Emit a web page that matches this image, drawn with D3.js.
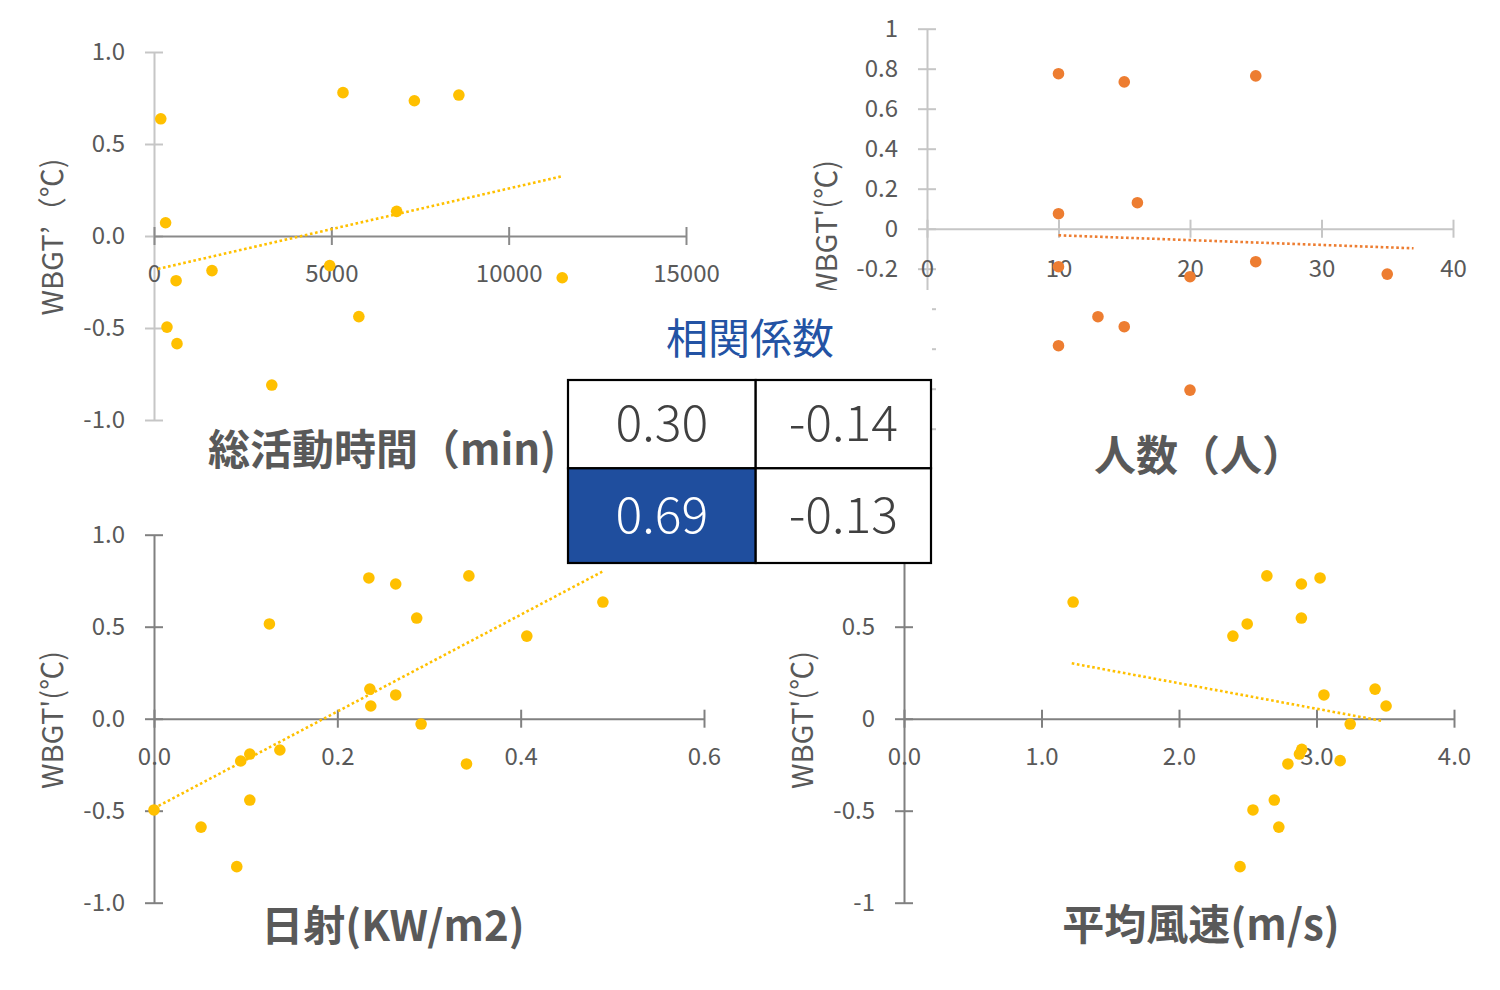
<!DOCTYPE html>
<html><head><meta charset="utf-8">
<script src="https://cdn.jsdelivr.net/npm/d3@7"></script>
<style>
body{margin:0;background:#fff}
svg{display:block}
text{font-family:"Noto Sans CJK JP","Noto Sans",sans-serif}
</style>
</head><body>
<svg id="c" width="1500" height="990"></svg>
<script>
// ---- Data ----
// 総活動時間 (min) vs WBGT'
const tlX = [191, 327, 623, 366, 648, 1635, 3321, 4954, 5329, 5776, 6842, 7341, 8596, 11510];
const tlY = [0.637, 0.072, -0.243, -0.495, -0.585, -0.188, -0.81, -0.161, 0.779, -0.438, 0.134, 0.735, 0.766, -0.227];
const tlTrendX = [110, 11470];
const tlTrendY = [-0.179, 0.323];
const tlXTicks = [0, 5000, 10000, 15000];
const tlXLabels = ["0", "5000", "10000", "15000"];
const tlYTicks = [-1, -0.5, 0, 0.5, 1];
const tlYLabels = ["-1.0", "-0.5", "0.0", "0.5", "1.0"];

// 人数 (人) vs WBGT'
const trX = [10, 15, 25, 16, 10, 10, 25, 20, 35, 13, 15, 10, 20];
const trY = [0.775, 0.734, 0.764, 0.130, 0.075, -0.19, -0.165, -0.24, -0.227, -0.44, -0.49, -0.585, -0.807];
const trTrendX = [10, 37];
const trTrendY = [-0.033, -0.098];
const trXTicks = [0, 10, 20, 30, 40];
const trXLabels = ["0", "10", "20", "30", "40"];
const trYTicks = [-1, -0.8, -0.6, -0.4, -0.2, 0, 0.2, 0.4, 0.6, 0.8, 1];
const trYLabels = ["-1", "-0.8", "-0.6", "-0.4", "-0.2", "0", "0.2", "0.4", "0.6", "0.8", "1"];

// 日射 (KW/m2) vs WBGT'
const blX = [0.2344, 0.2637, 0.3435, 0.1259, 0.2866, 0.4897, 0.4067, 0.2355, 0.2637, 0.2365, 0.2914, 0.1373, 0.1045, 0.0946, 0.3409, 0.0, 0.1045, 0.0513, 0.0903];
const blY = [0.765, 0.732, 0.776, 0.515, 0.547, 0.634, 0.449, 0.161, 0.129, 0.069, -0.029, -0.170, -0.192, -0.230, -0.246, -0.496, -0.442, -0.589, -0.804];
const blTrendX = [0, 0.489];
const blTrendY = [-0.487, 0.799];
const blXTicks = [0, 0.2, 0.4, 0.6];
const blXLabels = ["0.0", "0.2", "0.4", "0.6"];
const blYTicks = [-1, -0.5, 0, 0.5, 1];
const blYLabels = ["-1.0", "-0.5", "0.0", "0.5", "1.0"];

// 平均風速 (m/s) vs WBGT'
const brX = [1.230, 2.639, 2.890, 3.026, 2.496, 2.392, 2.890, 3.054, 3.426, 3.506, 3.245, 2.893, 2.876, 2.792, 3.172, 2.693, 2.538, 2.726, 2.444];
const brY = [0.634, 0.776, 0.732, 0.765, 0.515, 0.449, 0.547, 0.129, 0.161, 0.069, -0.029, -0.166, -0.192, -0.246, -0.228, -0.442, -0.496, -0.589, -0.804];
const brTrendX = [1.22, 3.47];
const brTrendY = [0.301, -0.011];
const brXTicks = [0, 1, 2, 3, 4];
const brXLabels = ["0.0", "1.0", "2.0", "3.0", "4.0"];
const brYTicks = [-1, -0.5, 0, 0.5, 1];
const brYLabels = ["-1", "-0.5", "0", "0.5", "1"];

// 相関係数 table
const corrValues = [["0.30", "-0.14"], ["0.69", "-0.13"]];
const corrTitle = "相関係数";

// ---- Drawing ----
const svg = d3.select("#c");
const TXT = "#595959";

function panel(o) {
  const g = svg.append("g");
  const x = d3.scaleLinear().domain(o.xd).range(o.xr);
  const y = d3.scaleLinear().domain([-1, 1]).range(o.yr);

  // y axis
  const ya = g.append("g").attr("transform", `translate(${x(0)},0)`)
    .call(d3.axisLeft(y).tickValues(o.yt).tickFormat((d, i) => o.yl[i])
      .tickSizeInner(9).tickSizeOuter(0).tickPadding(20));
  ya.selectAll(".tick line").attr("x1", 9).attr("stroke", o.yCol).attr("stroke-width", 2);
  ya.select(".domain").attr("stroke", o.yCol).attr("stroke-width", 2);
  ya.selectAll("text").attr("fill", TXT).style("font-size", "24px");
  // labels that sit under the overlaid table/title box are not visible in the chart
  if (o.hidden) ya.selectAll(".tick").filter(d => o.hidden(y(d))).select("text").remove();

  // x axis at y = 0
  const xa = g.append("g").attr("transform", `translate(0,${y(0)})`)
    .call(d3.axisBottom(x).tickValues(o.xt).tickFormat((d, i) => o.xl[i])
      .tickSizeInner(9).tickSizeOuter(0).tickPadding(o.xPad));
  xa.selectAll(".tick line").attr("y1", -9).attr("stroke", o.xCol).attr("stroke-width", 2);
  xa.select(".domain").attr("stroke", o.xCol).attr("stroke-width", 2);
  xa.selectAll("text").attr("fill", TXT).style("font-size", "24px");

  // y title
  g.append("text").attr("transform", `translate(${o.ytx},${o.yty}) rotate(-90)`)
    .attr("text-anchor", "middle").attr("dominant-baseline", "central")
    .attr("fill", TXT).style("font-size", "29px").text(o.ytitle);
  // x title
  g.append("text").attr("x", o.xtx).attr("y", o.xty)
    .attr("text-anchor", "middle").attr("dominant-baseline", "central")
    .attr("fill", TXT).style("font-size", "42px").style("font-weight", "bold").text(o.xtitle);

  // points
  g.append("g").selectAll("circle").data(o.px.map((v, i) => [v, o.py[i]])).join("circle")
    .attr("cx", d => x(d[0])).attr("cy", d => y(d[1])).attr("r", 5.8).attr("fill", o.col);

  // trendline
  g.append("line")
    .attr("x1", x(o.tx[0])).attr("y1", y(o.ty[0]))
    .attr("x2", x(o.tx[1])).attr("y2", y(o.ty[1]))
    .attr("stroke", o.col).attr("stroke-width", 2.6)
    .attr("stroke-dasharray", "2.6,2.6");
}

panel({xd: [0, 15000], xr: [154, 686], yr: [420, 52], xt: tlXTicks, xl: tlXLabels, yt: tlYTicks, yl: tlYLabels,
  px: tlX, py: tlY, tx: tlTrendX, ty: tlTrendY, col: "#FFC000", yCol: "#c6c6c6", xCol: "#8a8a8a", xPad: 20,
  ytitle: "WBGT’（℃)", ytx: 50, yty: 237, xtitle: "総活動時間（min)", xtx: 382, xty: 446});

panel({xd: [0, 40], xr: [927, 1453], yr: [428.7, 28.7], xt: trXTicks, xl: trXLabels, yt: trYTicks, yl: trYLabels,
  px: trX, py: trY, tx: trTrendX, ty: trTrendY, col: "#ED7D31", yCol: "#c6c6c6", xCol: "#c6c6c6", xPad: 22,
  hidden: py => py > 290,
  ytitle: "WBGT'(℃)", ytx: 824, yty: 229, xtitle: "人数（人）", xtx: 1199, xty: 452});

panel({xd: [0, 0.6], xr: [154, 704], yr: [902.7, 534.7], xt: blXTicks, xl: blXLabels, yt: blYTicks, yl: blYLabels,
  px: blX, py: blY, tx: blTrendX, ty: blTrendY, col: "#FFC000", yCol: "#808080", xCol: "#808080", xPad: 20,
  ytitle: "WBGT'(℃)", ytx: 50, yty: 720, xtitle: "日射(KW/m2)", xtx: 393, xty: 922});

panel({xd: [0, 4], xr: [904, 1454], yr: [902.7, 534.7], xt: brXTicks, xl: brXLabels, yt: brYTicks, yl: brYLabels,
  px: brX, py: brY, tx: brTrendX, ty: brTrendY, col: "#FFC000", yCol: "#808080", xCol: "#808080", xPad: 20,
  hidden: py => py < 563,
  ytitle: "WBGT'(℃)", ytx: 800, yty: 720, xtitle: "平均風速(m/s)", xtx: 1201, xty: 921});

// white cover box behind the title/table
svg.append("rect").attr("x", 566).attr("y", 290).attr("width", 366).attr("height", 180).attr("fill", "#fff");

// title
svg.append("text").attr("x", 750).attr("y", 335).attr("text-anchor", "middle").attr("dominant-baseline", "central")
  .attr("fill", "#2353A4").style("font-size", "42px").text(corrTitle);

// table
const tx0 = 568, tx1 = 755.7, tx2 = 931, ty0 = 380, ty1 = 468.3, ty2 = 563;
const cols = [[tx0, tx1], [tx1, tx2]], rows = [[ty0, ty1], [ty1, ty2]];
const cells = [];
corrValues.forEach((row, r) => row.forEach((v, c) => cells.push({r, c, v})));
const tg = svg.append("g");
tg.selectAll("rect").data(cells).join("rect")
  .attr("x", d => cols[d.c][0]).attr("y", d => rows[d.r][0])
  .attr("width", d => cols[d.c][1] - cols[d.c][0]).attr("height", d => rows[d.r][1] - rows[d.r][0])
  .attr("fill", d => (d.r === 1 && d.c === 0) ? "#1F4E9E" : "#fff")
  .attr("stroke", "#000").attr("stroke-width", 2.2);
tg.selectAll("text").data(cells).join("text")
  .attr("x", d => (cols[d.c][0] + cols[d.c][1]) / 2)
  .attr("y", d => (rows[d.r][0] + rows[d.r][1]) / 2 - 5)
  .attr("text-anchor", "middle").attr("dominant-baseline", "central")
  .attr("fill", d => (d.r === 1 && d.c === 0) ? "#fff" : "#404040")
  .style("font-size", "50px").style("font-weight", "300").text(d => d.v);
</script>
</body></html>
